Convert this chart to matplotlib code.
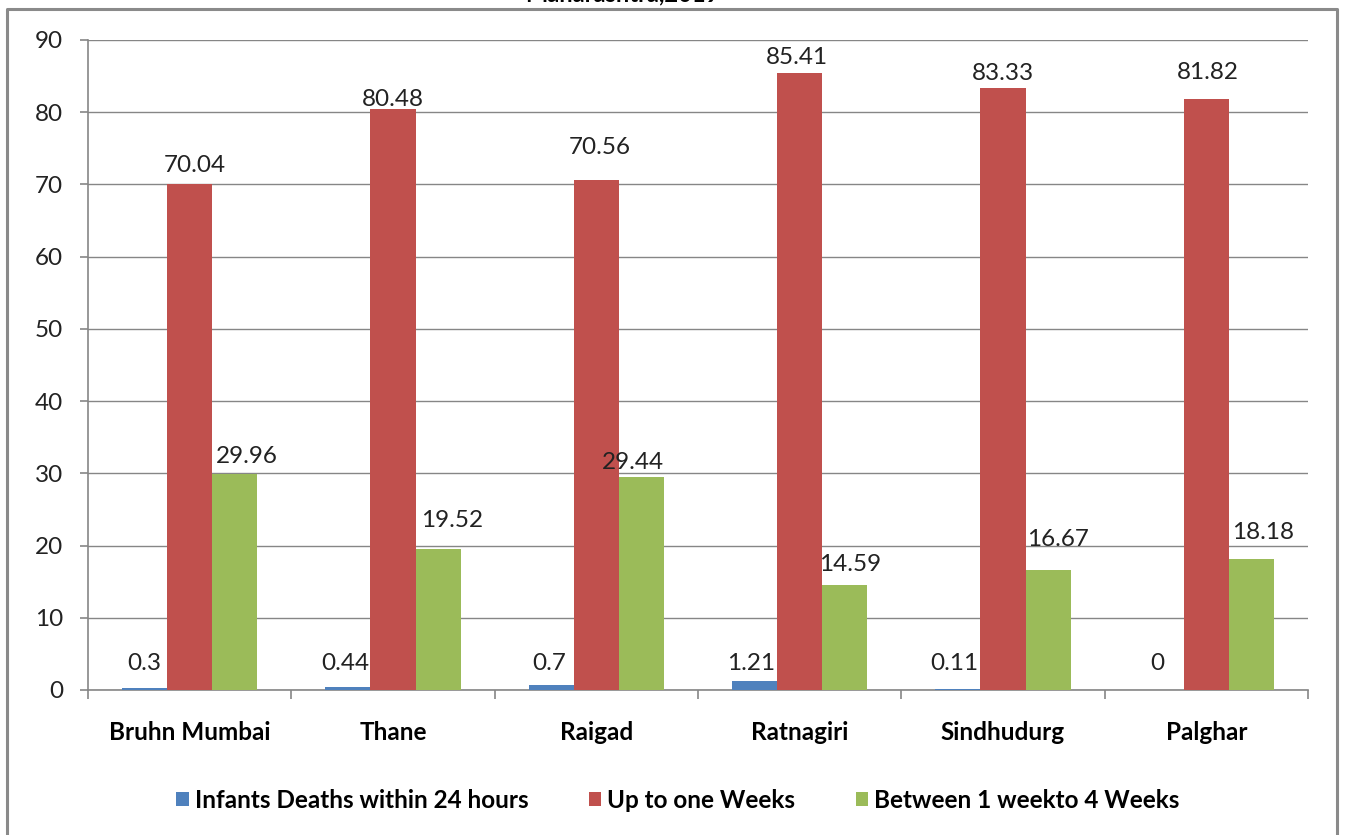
import numpy as np
import matplotlib.pyplot as plt
from matplotlib.lines import Line2D

plt.rcParams['font.family'] = ['Lato', 'DejaVu Sans']

# districts and percentage of infant deaths by age at death
districts = ['Bruhn Mumbai', 'Thane', 'Raigad', 'Ratnagiri', 'Sindhudurg', 'Palghar']
within_24h = [0.3, 0.44, 0.7, 1.21, 0.11, 0]
upto_week = [70.04, 80.48, 70.56, 85.41, 83.33, 81.82]
week_to_4 = [29.96, 19.52, 29.44, 14.59, 16.67, 18.18]
series_names = ['Infants Deaths within 24 hours', 'Up to one Weeks',
                'Between 1 weekto 4 Weeks']
yticks = list(range(0, 91, 10))

colors = ['#4F81BD', '#C0504D', '#9BBB59']
# label placement (pixels above bar top, pixels sideways)
lab_dy = [[27, 27, 27, 27, 27, 27],
          [19, 9, 33, 16, 15, 27],
          [17, 29, 15, 20, 30, 26]]
lab_dx = [[0, -3, -2, -3, -4, -4],
          [5, 0, 3, -3, 0, 2],
          [12, 14, -9, 5, 10, 12]]

fig = plt.figure(figsize=(13.45, 8.35), dpi=100)
ax = fig.add_axes([88 / 1345, 1 - 690 / 835, 1220 / 1345, 650 / 835])

x = np.arange(len(districts))
w = 0.222
allvals = [within_24h, upto_week, week_to_4]
for i, vals in enumerate(allvals):
    xs = x + (i - 1) * w
    ax.bar(xs, vals, width=w, color=colors[i], label=series_names[i], zorder=3)
    for j, v in enumerate(vals):
        base = 0 if i == 0 else v
        ax.annotate('%g' % v, (xs[j], base), xytext=(lab_dx[i][j], lab_dy[i][j]),
                    textcoords='offset pixels', ha='center', va='center',
                    fontsize=17.5, color='#222222', zorder=4)

ax.set_xlim(-0.5, len(districts) - 0.5)
ax.set_ylim(0, 90)
ax.set_yticks(yticks)
ax.yaxis.grid(True, color='#868686', lw=1.0)
ax.set_axisbelow(True)
for s in ['top', 'right']:
    ax.spines[s].set_visible(False)
for s in ['left', 'bottom']:
    ax.spines[s].set_color('#868686')
    ax.spines[s].set_linewidth(1.2)

# category boundaries carry the x ticks
ax.set_xticks(np.arange(len(districts) + 1) - 0.5)
ax.set_xticklabels([])
ax.set_xticks(x, minor=True)
ax.set_xticklabels(districts, minor=True, fontsize=17.5, fontweight='bold')
ax.tick_params(axis='x', which='major', length=6.5, color='#868686', width=1.2)
ax.tick_params(axis='x', which='minor', length=0, pad=22)
ax.tick_params(axis='y', length=6, color='#868686', width=1.2,
               labelsize=17.5, pad=12, labelcolor='#222222')

leg = fig.legend(loc='center', bbox_to_anchor=(678 / 1345, 1 - 800 / 835), ncol=3,
                 frameon=False, prop={'size': 17.5, 'weight': 'bold'},
                 handlelength=0.5, handleheight=0.5, handletextpad=0.25,
                 columnspacing=2.5)

# chart frame, open at the bottom edge of the image
fc = '#8a8a8a'
fig.add_artist(Line2D([7 / 1345, 7 / 1345, 1337 / 1345, 1337 / 1345],
                      [0, 1 - 9 / 835, 1 - 9 / 835, 0],
                      transform=fig.transFigure, color=fc, lw=2.2))

fig.text(622 / 1345, 1 - 1.5 / 835, 'Maharashtra,2019', ha='center',
         va='baseline', fontsize=17, fontweight='bold')

fig.savefig('out.png', dpi=100)
